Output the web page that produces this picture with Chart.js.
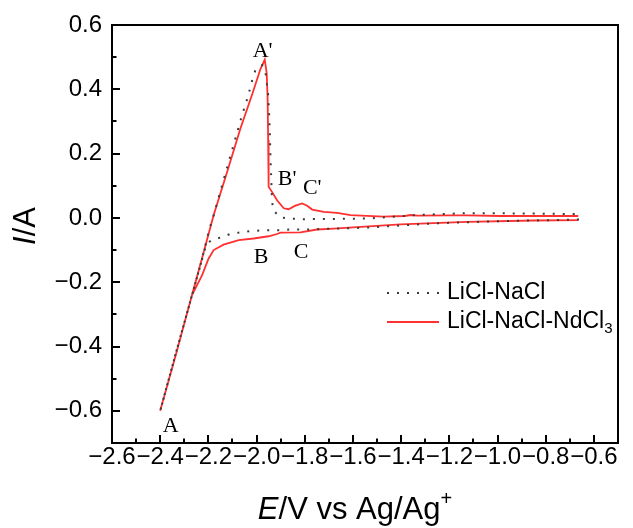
<!DOCTYPE html>
<html>
<head>
<meta charset="utf-8">
<script src="https://cdn.jsdelivr.net/npm/chart.js@4.4.0/dist/chart.umd.min.js"></script>
<style>
  html, body { margin: 0; padding: 0; background: #fff; }
</style>
</head>
<body>
<canvas id="cv" width="633" height="528"></canvas>
<script>
// LiCl-NaCl-NdCl3 melt: potential (V vs Ag/Ag+) and current (A), one full cycle
var ndE = [-0.665, -0.850, -1.126, -1.403, -1.680, -1.749, -1.818, -1.901, -1.915, -1.950,
           -2.012, -2.074, -2.137, -2.178, -2.199, -2.226, -2.247, -2.268, -2.333, -2.400,
           -2.333, -2.268, -2.223, -2.178, -2.121, -2.067, -2.017, -1.984, -1.966,
           -1.958, -1.954, -1.952, -1.950, -1.936, -1.915, -1.887, -1.867, -1.839,
           -1.811, -1.790, -1.769, -1.721, -1.666, -1.610, -1.473, -1.385, -1.361,
           -1.333, -1.200, -1.126, -0.987, -0.665];
var ndI = [-0.007, -0.008, -0.012, -0.020, -0.033, -0.036, -0.045, -0.046, -0.050, -0.057,
           -0.064, -0.069, -0.083, -0.100, -0.126, -0.178, -0.209, -0.240, -0.420, -0.600,
           -0.420, -0.240, -0.116, 0.009, 0.146, 0.278, 0.387, 0.463, 0.492,
           0.450, 0.367, 0.242, 0.097, 0.081, 0.055, 0.030, 0.027, 0.038,
           0.045, 0.038, 0.026, 0.019, 0.016, 0.009, 0.004, 0.006, 0.009,
           0.007, 0.008, 0.008, 0.006, 0.006];

// LiCl-NaCl blank melt
var baseE = [-0.662, -0.987, -1.266, -1.541, -1.790, -1.860, -1.901, -1.956, -2.026, -2.067,
             -2.109, -2.150, -2.185, -2.208, -2.233, -2.335, -2.400,
             -2.335, -2.233, -2.195, -2.182, -2.125, -2.060, -2.034, -2.015, -2.002, -1.976,
             -1.961, -1.952, -1.948, -1.945, -1.942, -1.936, -1.931, -1.901, -1.860,
             -1.818, -1.541, -1.333, -1.126, -0.918, -0.662];
var baseI = [-0.005, -0.010, -0.017, -0.030, -0.036, -0.036, -0.038, -0.038, -0.041, -0.045,
             -0.050, -0.061, -0.069, -0.080, -0.147, -0.420, -0.600,
             -0.420, -0.147, -0.033, -0.002, 0.150, 0.320, 0.382, 0.438, 0.465, 0.475,
             0.444, 0.382, 0.326, 0.264, 0.180, 0.055, 0.024, 0.001, -0.002,
             -0.004, -0.002, 0.009, 0.015, 0.014, 0.012];

var xTicks = [-2.6, -2.4, -2.2, -2.0, -1.8, -1.6, -1.4, -1.2, -1.0, -0.8, -0.6];
var yTicks = [-0.6, -0.4, -0.2, 0.0, 0.2, 0.4, 0.6];

// peak names and where they sit (E, I)
var peakNames = ['A', "A'", 'B', "B'", 'C', "C'"];
var peakE = [-2.356, -1.975, -1.981, -1.873, -1.815, -1.769];
var peakI = [-0.667, 0.501, -0.140, 0.102, -0.124, 0.074];

var SANS = '"Liberation Sans", Arial, sans-serif';
var SERIF = '"Liberation Serif", "Times New Roman", serif';

function pts(xs, ys) {
  return xs.map(function (x, i) { return { x: x, y: ys[i] }; });
}

function fmt(v) {
  return (v < -1e-9 ? '\u2212' : '') + Math.abs(v).toFixed(1);
}

// text made of runs: [string, font, baseline shift]
function runsWidth(ctx, runs) {
  var w = 0;
  runs.forEach(function (r) { ctx.font = r[1]; w += ctx.measureText(r[0]).width; });
  return w;
}
function drawRuns(ctx, x, y, runs) {
  runs.forEach(function (r) {
    ctx.font = r[1];
    ctx.fillText(r[0], x, y + r[2]);
    x += ctx.measureText(r[0]).width;
  });
}

var framePlugin = {
  id: 'frame',
  afterDraw: function (chart) {
    var ctx = chart.ctx, a = chart.chartArea;
    var xs = chart.scales.x, ys = chart.scales.y;
    ctx.save();
    ctx.strokeStyle = '#000';
    ctx.fillStyle = '#000';
    ctx.lineWidth = 2;
    ctx.strokeRect(a.left, a.top, a.right - a.left, a.bottom - a.top);

    // inward ticks on bottom and left axes
    ctx.beginPath();
    xTicks.forEach(function (v) {
      var p = Math.round(xs.getPixelForValue(v));
      ctx.moveTo(p, a.bottom); ctx.lineTo(p, a.bottom - 8);
      var m = Math.round(xs.getPixelForValue(v + 0.1));
      ctx.moveTo(m, a.bottom); ctx.lineTo(m, a.bottom - 4.5);
    });
    yTicks.forEach(function (v) {
      var p = Math.round(ys.getPixelForValue(v));
      ctx.moveTo(a.left, p); ctx.lineTo(a.left + 8, p);
      var m = Math.round(ys.getPixelForValue(v - 0.1));
      ctx.moveTo(a.left, m); ctx.lineTo(a.left + 4.5, m);
    });
    ctx.stroke();

    // peak letters
    ctx.font = '22px ' + SERIF;
    ctx.textAlign = 'center';
    ctx.textBaseline = 'alphabetic';
    peakNames.forEach(function (t, i) {
      ctx.fillText(t, xs.getPixelForValue(peakE[i]), ys.getPixelForValue(peakI[i]));
    });

    // legend
    ctx.textAlign = 'left';
    ctx.textBaseline = 'middle';
    var lx = 387, ly = 293;
    ctx.lineWidth = 2;
    ctx.strokeStyle = '#3a3a3a';
    ctx.setLineDash([2, 8]);
    ctx.beginPath(); ctx.moveTo(lx, ly); ctx.lineTo(lx + 52, ly); ctx.stroke();
    ctx.setLineDash([]);
    ctx.strokeStyle = '#ff3030';
    ctx.lineWidth = 1.8;
    ctx.beginPath(); ctx.moveTo(lx, ly + 29); ctx.lineTo(lx + 52, ly + 29); ctx.stroke();
    drawRuns(ctx, lx + 60, ly, [['LiCl-NaCl', '23px ' + SANS, 0]]);
    drawRuns(ctx, lx + 60, ly + 29, [['LiCl-NaCl-NdCl', '23px ' + SANS, 0], ['3', '15px ' + SANS, 7]]);

    // axis titles
    ctx.textBaseline = 'alphabetic';
    var xt = [['E', 'italic 31px ' + SANS, 0], ['/V vs Ag/Ag', '31px ' + SANS, 0], ['+', '20px ' + SANS, -14]];
    var w = runsWidth(ctx, xt);
    drawRuns(ctx, (a.left + a.right) / 2 - 10 - w / 2, 519, xt);

    var yt = [['I', 'italic 31px ' + SANS, 0], ['/A', '31px ' + SANS, 0]];
    ctx.translate(26, 226);
    ctx.rotate(-Math.PI / 2);
    ctx.textBaseline = 'middle';
    w = runsWidth(ctx, yt);
    drawRuns(ctx, -w / 2, 0, yt);
    ctx.restore();
  }
};

var tickFont = { family: SANS, size: 24 };

new Chart(document.getElementById('cv'), {
  type: 'scatter',
  data: {
    datasets: [
      {
        label: 'LiCl-NaCl',
        data: pts(baseE, baseI),
        showLine: true,
        borderColor: '#3a3a3a',
        borderWidth: 2,
        borderDash: [2, 8],
        pointRadius: 0,
        tension: 0
      },
      {
        label: 'LiCl-NaCl-NdCl3',
        data: pts(ndE, ndI),
        showLine: true,
        borderColor: '#ff3030',
        borderWidth: 1.8,
        pointRadius: 0,
        tension: 0
      }
    ]
  },
  options: {
    responsive: false,
    animation: false,
    devicePixelRatio: 1,
    layout: { padding: { top: 25, right: 15, left: 0, bottom: 0 } },
    plugins: {
      legend: { display: false },
      tooltip: { enabled: false }
    },
    scales: {
      x: {
        type: 'linear',
        min: -2.6,
        max: -0.5,
        grid: { display: false, drawTicks: false },
        border: { display: false },
        afterBuildTicks: function (s) { s.ticks = xTicks.map(function (v) { return { value: v }; }); },
        afterFit: function (s) { s.height = 85; },
        ticks: {
          autoSkip: false, maxRotation: 0, minRotation: 0, padding: 0,
          color: '#000', font: tickFont, callback: fmt
        }
      },
      y: {
        type: 'linear',
        min: -0.7,
        max: 0.6,
        grid: { display: false, drawTicks: false },
        border: { display: false },
        afterBuildTicks: function (s) { s.ticks = yTicks.map(function (v) { return { value: v }; }); },
        afterFit: function (s) { s.width = 112; },
        ticks: { padding: 10, color: '#000', font: tickFont, callback: fmt }
      }
    }
  },
  plugins: [framePlugin]
});
</script>
</body>
</html>
